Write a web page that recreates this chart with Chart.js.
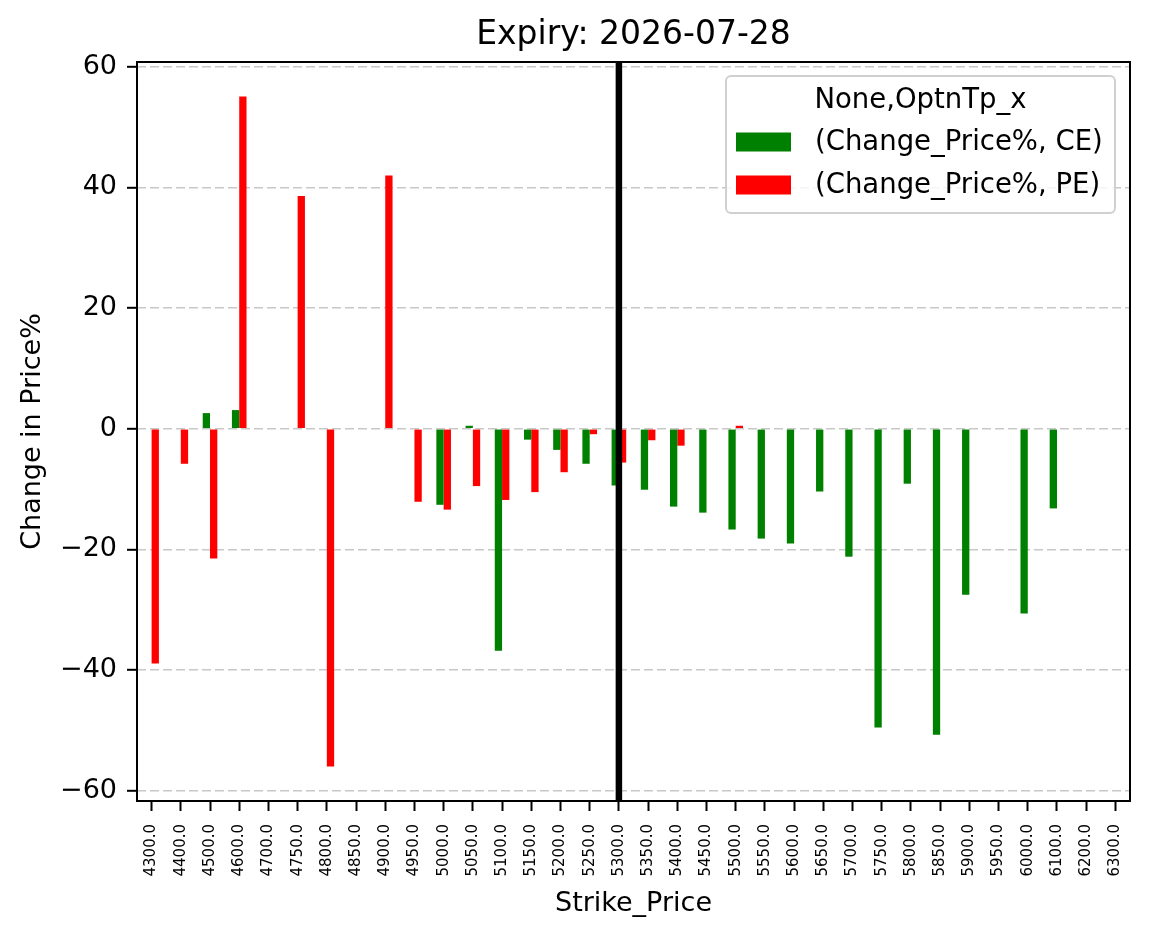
<!DOCTYPE html>
<html>
<head>
<meta charset="utf-8">
<script src="https://cdn.jsdelivr.net/npm/chart.js@4.4.1/dist/chart.umd.min.js"></script>
<style>
  html, body { margin: 0; padding: 0; background: #fff; }
  #wrap { width: 1149px; height: 939px; }
</style>
</head>
<body>
<div id="wrap"><canvas id="expiryChart" width="1149" height="939"></canvas></div>
<script>
const strikes = ['4300.0', '4400.0', '4500.0', '4600.0', '4700.0', '4750.0', '4800.0', '4850.0',
  '4900.0', '4950.0', '5000.0', '5050.0', '5100.0', '5150.0', '5200.0', '5250.0', '5300.0',
  '5350.0', '5400.0', '5450.0', '5500.0', '5550.0', '5600.0', '5650.0', '5700.0', '5750.0',
  '5800.0', '5850.0', '5900.0', '5950.0', '6000.0', '6100.0', '6200.0', '6300.0'];

// Change_Price% for calls (CE) and puts (PE); null = no value
const ceChange = [null, null, 2.6, 3.1, null, null, null, null,
  null, null, -12.6, 0.5, -36.8, -1.8, -3.5, -5.8, -9.4,
  -10.1, -12.9, -13.9, -16.7, -18.2, -19.0, -10.4, -21.2, -49.5,
  -9.1, -50.7, -27.5, null, -30.6, -13.2, null, null];
const peChange = [-38.9, -5.8, -21.5, 55.1, null, 38.6, -56.0, null,
  42.0, -12.1, -13.4, -9.5, -11.8, -10.5, -7.2, -0.9, -5.6,
  -1.9, -2.8, null, 0.5, null, null, null, null, null,
  null, null, null, null, null, null, null, null];

const yTicks = [-60, -40, -20, 0, 20, 40, 60];
const spotStrike = '5300.0';
const chartTitle = 'Expiry: 2026-07-28';
const legendTitle = 'None,OptnTp_x';

const FONT = 'DejaVu Sans';

// title centred over the plot area (like matplotlib), black vertical marker, axes frame
const markerAndFrame = {
  id: 'markerAndFrame',
  afterDatasetsDraw(chart) {
    const { ctx, chartArea: a, scales } = chart;
    const x = scales.x.getPixelForValue(strikes.indexOf(spotStrike));
    ctx.save();
    ctx.strokeStyle = '#000';
    ctx.lineWidth = 6.5;
    ctx.beginPath();
    ctx.moveTo(x, a.top);
    ctx.lineTo(x, a.bottom);
    ctx.stroke();
    ctx.lineWidth = 2;
    ctx.strokeRect(a.left, a.top, a.right - a.left, a.bottom - a.top);

    ctx.fillStyle = '#000';
    ctx.font = `33px "${FONT}"`;
    ctx.textAlign = 'center';
    ctx.textBaseline = 'middle';
    ctx.fillText(chartTitle, (a.left + a.right) / 2, a.top - 27);
    ctx.restore();
  }
};

// matplotlib style legend inside the plot, top right
const boxLegend = {
  id: 'boxLegend',
  afterDraw(chart) {
    const { ctx, chartArea: a } = chart;
    const w = 389, h = 137;
    const x0 = a.right - 15 - w, y0 = a.top + 14;
    ctx.save();
    ctx.fillStyle = 'rgba(255,255,255,0.8)';
    ctx.strokeStyle = '#d0d0d0';
    ctx.lineWidth = 2;
    ctx.beginPath();
    ctx.roundRect(x0, y0, w, h, 5);
    ctx.fill();
    ctx.stroke();

    ctx.fillStyle = '#000';
    ctx.font = `27.5px "${FONT}"`;
    ctx.textBaseline = 'middle';
    ctx.textAlign = 'center';
    ctx.fillText(legendTitle, x0 + w / 2, y0 + 25);
    ctx.textAlign = 'left';
    chart.data.datasets.forEach((ds, i) => {
      const cy = y0 + 66 + i * 43;
      ctx.fillStyle = ds.backgroundColor;
      ctx.fillRect(x0 + 10, cy - 9.5, 55, 19);
      ctx.fillStyle = '#000';
      ctx.fillText(ds.label, x0 + 89, cy + 1);
    });
    ctx.restore();
  }
};

new Chart(document.getElementById('expiryChart'), {
  type: 'bar',
  data: {
    labels: strikes,
    datasets: [
      {
        label: '(Change_Price%, CE)',
        data: ceChange,
        backgroundColor: 'green',
        categoryPercentage: 0.5,
        barPercentage: 1.0
      },
      {
        label: '(Change_Price%, PE)',
        data: peChange,
        backgroundColor: 'red',
        categoryPercentage: 0.5,
        barPercentage: 1.0
      }
    ]
  },
  options: {
    responsive: false,
    animation: false,
    devicePixelRatio: 1,
    layout: { padding: { left: 0, right: 19, top: 62, bottom: 0 } },
    plugins: {
      legend: { display: false },
      tooltip: { enabled: false },
      title: { display: false }
    },
    scales: {
      x: {
        offset: true,
        afterFit(scale) { scale.height = 138; },
        grid: {
          offset: false,
          drawOnChartArea: false,
          tickLength: 10,
          tickColor: '#000',
          tickWidth: 2
        },
        border: { display: false },
        ticks: {
          autoSkip: false,
          minRotation: 90,
          maxRotation: 90,
          padding: 13,
          color: '#000',
          font: { family: FONT, size: 15 }
        },
        title: {
          display: true,
          text: 'Strike_Price',
          color: '#000',
          font: { family: FONT, size: 27 },
          padding: { top: 0, bottom: 19 }
        }
      },
      y: {
        min: -61.7,
        max: 60.8,
        afterFit(scale) { scale.width = 137; },
        afterBuildTicks(scale) { scale.ticks = yTicks.map(v => ({ value: v })); },
        grid: {
          color: '#c8c8c8',
          lineWidth: 1.6,
          tickLength: 10,
          tickColor: '#000',
          tickWidth: 2,
          tickBorderDash: []
        },
        border: { display: false, dash: [9, 4] },
        ticks: {
          padding: 10,
          color: '#000',
          font: { family: FONT, size: 27 },
          callback: v => (v < 0 ? '\u2212' + Math.abs(v) : String(v))
        },
        title: {
          display: true,
          text: 'Change in Price%',
          color: '#000',
          font: { family: FONT, size: 27 },
          padding: { top: 17, bottom: 0 }
        }
      }
    }
  },
  plugins: [markerAndFrame, boxLegend]
});
</script>
</body>
</html>
